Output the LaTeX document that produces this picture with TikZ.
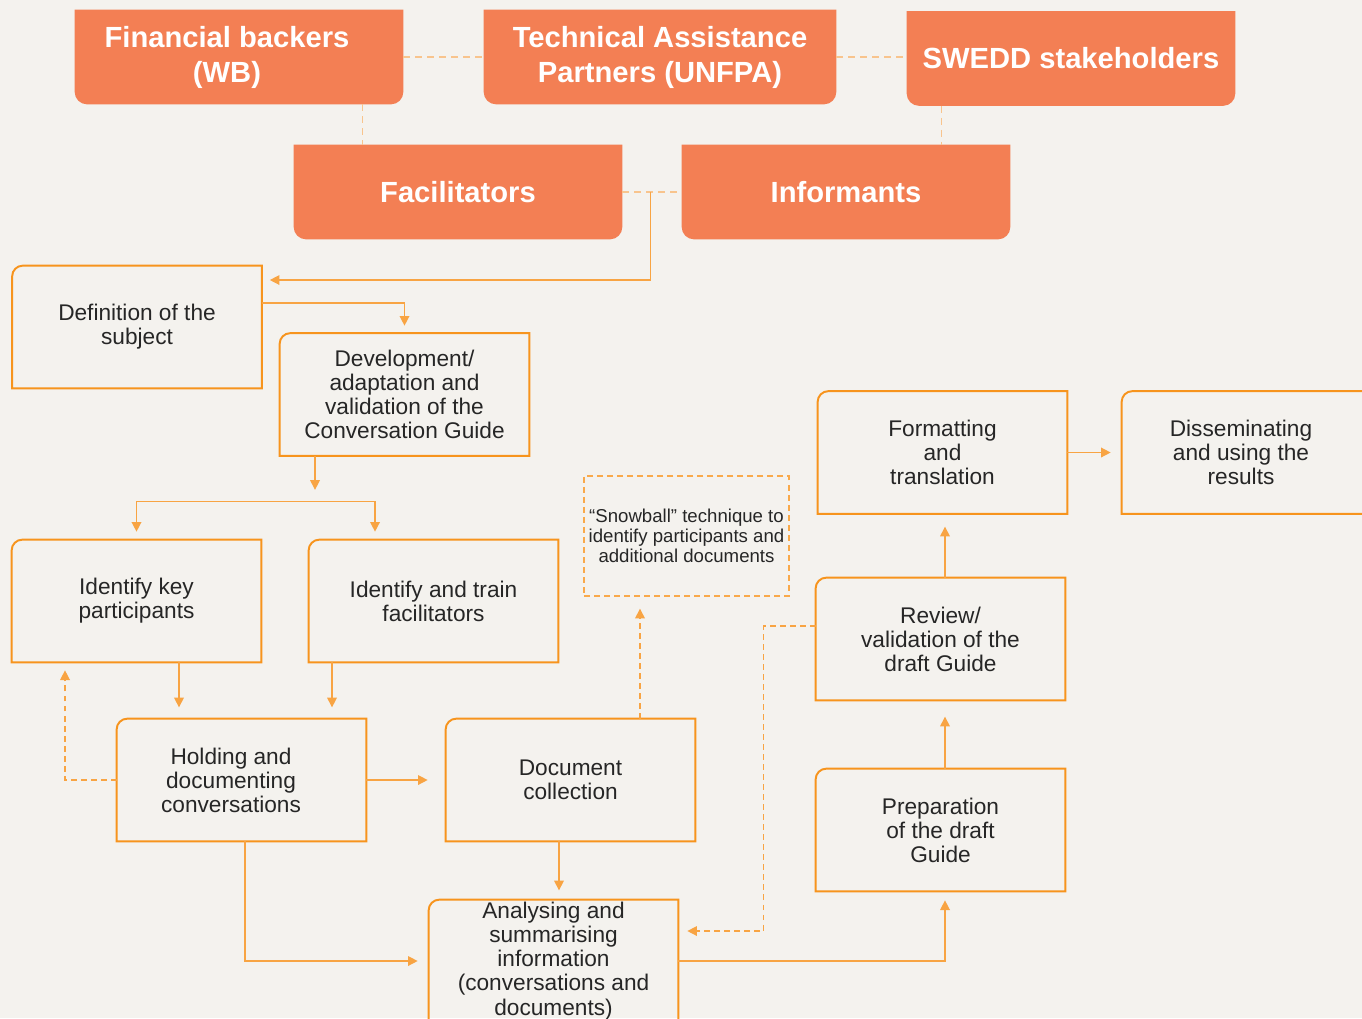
\documentclass[tikz,border=0pt]{standalone}
\usepackage{fontspec}
\setmainfont{Liberation Sans}
\usetikzlibrary{arrows.meta,backgrounds}
\definecolor{pagebg}{HTML}{F4F2EE}
\definecolor{boxfill}{HTML}{F37F54}
\definecolor{boxline}{HTML}{F7941D}
\definecolor{linkline}{HTML}{F8A443}
\definecolor{faintline}{HTML}{F8C48D}
\definecolor{inktext}{HTML}{262626}
\tikzset{
	>={Triangle[length=5.5pt,width=5.5pt]},
	topbox/.style={minimum width=6.56cm, minimum height=1.88cm, inner sep=0pt, align=center, text=white, font=\bfseries\fontsize{16.6}{19.9}\selectfont},
	stepbox/.style={minimum width=4.98cm, minimum height=2.44cm, inner sep=0pt, align=center, text=inktext, font=\fontsize{12.9}{13.7}\selectfont},
	snowbox/.style={minimum width=4.1cm, minimum height=2.4cm, inner sep=0pt, align=center, text=inktext, font=\fontsize{10.6}{11.4}\selectfont, draw=boxline!80, line width=0.8pt, dash pattern=on 3.4pt off 2.3pt},
	conn/.style={draw=linkline, line width=0.75pt, ->},
	dashconn/.style={conn, dash pattern=on 3.4pt off 2.3pt},
	toplink/.style={draw=faintline, line width=0.75pt, dash pattern=on 4pt off 2.8pt},
}
\newcommand{\stepframe}[1]{\draw[boxline, line width=1.1pt] (#1.south west) -- ([yshift=-6pt]#1.north west) arc[start angle=180,end angle=90,radius=6pt] -- (#1.north east) -- (#1.south east) -- cycle;}
\newcommand{\topframe}[1]{\fill[boxfill] (#1.north west) -- (#1.north east) -- ([yshift=7pt]#1.south east) arc[start angle=0,end angle=-90,radius=7pt] -- ([xshift=7pt]#1.south west) arc[start angle=270,end angle=180,radius=7pt] -- cycle;}
\newcommand{\lft}[2]{\hbox{#2\kern#1}}

\begin{document}
\begin{tikzpicture}[x=0.02cm, y=-0.02cm]
			%%%%% START %%%%%
			\useasboundingbox (0,0) rectangle (1362,1018);
			
			% partners
			\node[topbox] (fin) at (239, 57) {\lft{0.48cm}{Financial backers}\\\lft{0.48cm}{(WB)}};
			\node[topbox, minimum width=7.04cm] (ta) at (660, 57) {Technical Assistance\\Partners (UNFPA)};
			\node[topbox] (swedd) at (1071, 58.5) {SWEDD stakeholders};
			\node[topbox] (facil) at (458, 192) {Facilitators};
			\node[topbox] (inform) at (846, 192) {Informants};
			
			% steps
			\node[stepbox] (def) at (137, 327) {Definition of the\\subject};
			\node[stepbox] (dev) at (404.5, 394.5) {Development/\\adaptation and\\validation of the\\Conversation Guide};
			\node[stepbox] (idkey) at (136.5, 601) {Identify key\\participants};
			\node[stepbox] (idtrain) at (433.5, 601) {Identify and train\\facilitators};
			\node[stepbox] (hold) at (241.5, 780) {\lft{0.42cm}{Holding and}\\\lft{0.42cm}{documenting}\\\lft{0.42cm}{conversations}};
			\node[stepbox] (doc) at (570.5, 780) {Document\\collection};
			\node[stepbox] (anal) at (553.5, 961) {Analysing and\\summarising\\information\\(conversations and\\documents)};
			\node[snowbox] (snow) at (686.5, 536) {“Snowball” technique to\\identify participants and\\additional documents};
			\node[stepbox] (fmt) at (942.5, 452.5) {Formatting\\and\\translation};
			\node[stepbox, minimum width=5cm] (diss) at (1247, 452.5) {\lft{0.24cm}{Disseminating}\\\lft{0.24cm}{and using the}\\\lft{0.24cm}{results}};
			\node[stepbox] (rev) at (940.5, 639) {Review/\\validation of the\\draft Guide};
			\node[stepbox] (prep) at (940.5, 830) {Preparation\\of the draft\\Guide};
			
			\begin{pgfonlayer}{background}
				\fill[pagebg] (0,0) rectangle (1362,1018);
				\topframe{fin}
				\topframe{ta}
				\topframe{swedd}
				\topframe{facil}
				\topframe{inform}
			\end{pgfonlayer}
			
			\stepframe{def}
			\stepframe{dev}
			\stepframe{idkey}
			\stepframe{idtrain}
			\stepframe{hold}
			\stepframe{doc}
			\stepframe{anal}
			\stepframe{fmt}
			\stepframe{diss}
			\stepframe{rev}
			\stepframe{prep}
			
			% links between partners
			\coordinate (finleg) at ([xshift=-0.82cm]fin.south east);
			\coordinate (sweddleg) at ([xshift=0.7cm]swedd.south west);
			\coordinate (tapfi) at ([xshift=0.56cm]facil.east);
			\draw[toplink] (fin.east) -- (ta.west);
			\draw[toplink] (ta.east) -- (ta.east -| swedd.west);
			\draw[toplink] (finleg) -- (finleg |- facil.north);
			\draw[toplink] (sweddleg) -- (sweddleg |- inform.north);
			\draw[toplink] (facil.east) -- (inform.west);
			
			% process
			\draw[conn] (tapfi) |- ([xshift=0.16cm,yshift=0.94cm]def.east);
			\draw[conn] ([yshift=0.48cm]def.east) -| ([yshift=0.15cm]dev.north);
			\draw[conn] ([xshift=-1.79cm]dev.south) -- ++(0,-0.68cm);
			\draw[conn, <->] ([yshift=0.16cm]idkey.north) -- ++(0,0.6cm) -| ([xshift=-1.17cm,yshift=0.16cm]idtrain.north);
			\draw[conn] ([xshift=0.85cm]idkey.south) -- ++(0,-0.9cm);
			\draw[conn] ([xshift=-2.03cm]idtrain.south) -- ++(0,-0.9cm);
			\draw[dashconn] (hold.west) -| ([xshift=-1.43cm,yshift=-0.16cm]idkey.south);
			\draw[conn] (hold.east) -- ([xshift=-0.36cm]doc.west);
			\draw[conn] ([xshift=0.07cm]hold.south) |- ([xshift=-0.22cm]anal.west);
			\draw[conn] ([xshift=-0.23cm]doc.south) -- ++(0,-0.98cm);
			\draw[dashconn] ([xshift=1.39cm]doc.north) -- ++(0,2.2cm);
			\draw[conn] (anal.east) -| ([xshift=0.09cm,yshift=-0.18cm]prep.south);
			\draw[dashconn] ([yshift=0.26cm]rev.west) -- ++(-1.04cm,0) |- ([xshift=0.18cm,yshift=0.6cm]anal.east);
			\draw[conn] ([xshift=0.09cm]prep.north) -- ++(0,1.04cm);
			\draw[conn] ([xshift=0.09cm]rev.north) -- ++(0,1.02cm);
			\draw[conn] (fmt.east) -- ([xshift=-0.22cm]diss.west);
			
			%%%%% END %%%%%
\end{tikzpicture}
\end{document}
